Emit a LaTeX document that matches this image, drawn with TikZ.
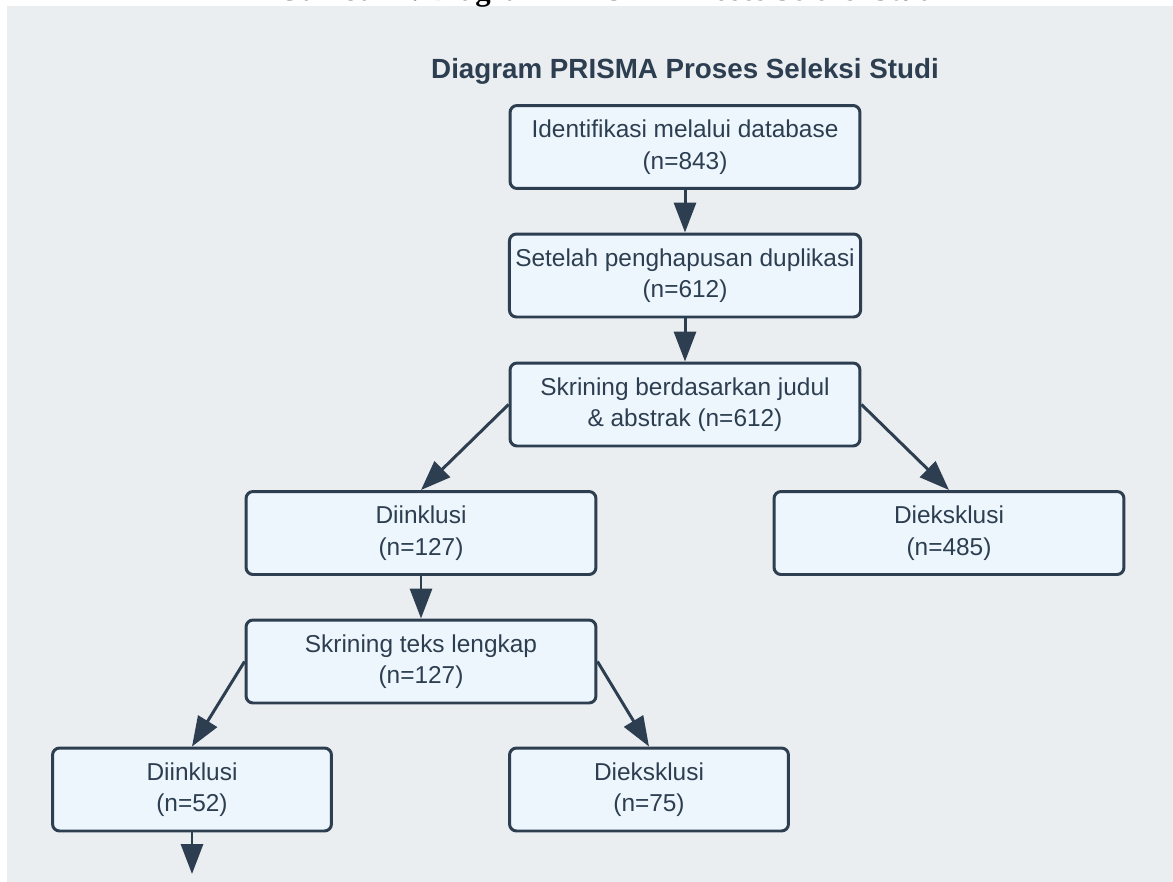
\documentclass[tikz,border=0pt]{standalone}
\usepackage{fontspec}
\setmainfont{Liberation Sans}
\newfontfamily\capfont{Liberation Serif}
\usetikzlibrary{arrows.meta}

\definecolor{bgpanel}{HTML}{EBEEF1}
\definecolor{boxfill}{HTML}{EEF6FD}
\definecolor{slate}{HTML}{2C3E50}

\tikzset{
    stagebox/.style={draw=slate, fill=boxfill, line width=1.7pt, rounded corners=4pt,
        minimum width=7cm, minimum height=1.66cm, align=center, text=slate,
        font=\fontsize{13.9}{18}\selectfont},
    smallbox/.style={stagebox, minimum width=5.58cm},
    flow/.style={draw=slate, line width=1.7pt, -{Triangle[length=17pt,width=12.5pt]}}
}

\begin{document}
\begin{tikzpicture}[x=0.02cm, y=-0.02cm]
    \useasboundingbox (0,0) rectangle (1173,882);
    \fill[bgpanel] (7,6) rectangle (1173,882);

    % caption of the page, cut at the top
    \begin{scope}
        \clip (0,0) rectangle (1173,882);
        \node (caption) [anchor=base, inner sep=0pt, font=\capfont\bfseries\fontsize{17.5}{20}\selectfont] at (610,1) {Gambar 1. Diagram PRISMA Proses Seleksi Studi};
    \end{scope}

    \node (title) [text=slate, font=\bfseries\fontsize{15.8}{19}\selectfont] at (685,71) {Diagram PRISMA Proses Seleksi Studi};

    \node (ident) [stagebox] at (685,147) {Identifikasi melalui database\\(n=843)};
    \node (dedup) [stagebox] at (685,275.5) {Setelah penghapusan duplikasi\\(n=612)};
    \node (screen) [stagebox] at (685,404.5) {Skrining berdasarkan judul\\\& abstrak (n=612)};

    \node (incl1) [stagebox] at (421,533) {Diinklusi\\(n=127)};
    \node (excl1) [stagebox] at (949,533) {Dieksklusi\\(n=485)};

    \node (fulltext) [stagebox] at (421,661.5) {Skrining teks lengkap\\(n=127)};

    \node (incl2) [smallbox] at (192,789.5) {Diinklusi\\(n=52)};
    \node (excl2) [smallbox] at (649,789.5) {Dieksklusi\\(n=75)};
    \coordinate (next) at (192,874);

    \draw [flow] (ident) -- (dedup);
    \draw [flow] (dedup) -- (screen);
    \draw [flow] (screen.west) -- (incl1.north);
    \draw [flow] (screen.east) -- (excl1.north);
    \draw [flow] (incl1) -- (fulltext);
    \draw [flow] (fulltext.west) -- (incl2.north);
    \draw [flow] (fulltext.east) -- (excl2.north);
    \draw [flow] (incl2) -- (next);
\end{tikzpicture}
\end{document}
